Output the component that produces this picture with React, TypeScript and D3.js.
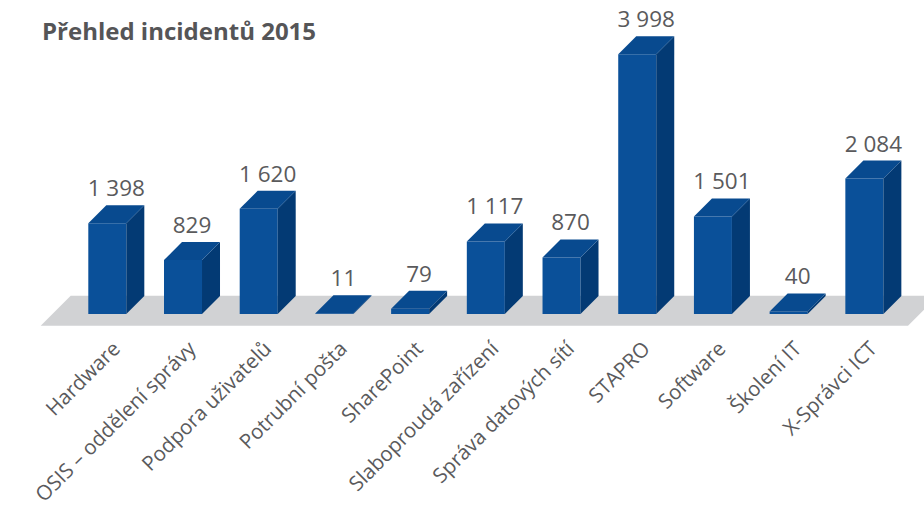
import React from "react";
import * as d3 from "d3";

const categories = [
  "Hardware",
  "OSIS – oddělení správy",
  "Podpora uživatelů",
  "Potrubní pošta",
  "SharePoint",
  "Slaboproudá zařízení",
  "Správa datových sítí",
  "STAPRO",
  "Software",
  "Školení IT",
  "X-Správci ICT",
];
const values = [1398, 829, 1620, 11, 79, 1117, 870, 3998, 1501, 40, 2084];
const title = "Přehled incidentů 2015";

const W = 924;
const H = 513;
const DX = 18;
const DY = 18;
const BASE = 314;

const locale = d3.formatLocale({
  decimal: ",",
  thousands: "\u00a0",
  grouping: [3],
  currency: ["", ""],
});
const fmt = locale.format(",");

export default function App() {
  const x = d3
    .scaleBand<string>()
    .domain(categories)
    .range([50.45, 921.2])
    .paddingInner(0.498)
    .paddingOuter(0.5);
  const y = d3.scaleLinear().domain([0, 4000]).range([BASE, 54]);
  const bw = x.bandwidth();

  const floor = d3.path();
  floor.moveTo(40.7, 325.7);
  floor.lineTo(908, 325.7);
  floor.lineTo(938, 295.7);
  floor.lineTo(70.7, 295.7);
  floor.closePath();

  const font = "'Open Sans', 'Noto Sans', sans-serif";
  const textColor = "#5a5a5c";

  return (
    <svg
      width={W}
      height={H}
      style={{ position: "absolute", left: 0, top: 0, background: "#fff" }}
    >
      <text
        x={42}
        y={40}
        fontFamily={font}
        fontWeight={700}
        fontSize={24}
        fill="#555557"
      >
        {title}
      </text>
      <path d={floor.toString()} fill="#d1d2d4" />
      {categories.map((c, i) => {
        const x0 = x(c)!;
        const x1 = x0 + bw;
        const yt = y(values[i]);
        const front = `M${x0},${BASE}L${x1},${BASE}L${x1},${yt}L${x0},${yt}Z`;
        const side = `M${x1},${BASE}L${x1 + DX},${BASE - DY}L${x1 + DX},${yt - DY}L${x1},${yt}Z`;
        const top = `M${x0},${yt}L${x1},${yt}L${x1 + DX},${yt - DY}L${x0 + DX},${yt - DY}Z`;
        return (
          <g key={c}>
            <path d={front} fill="#0a5099" />
            <path d={side} fill="#033a74" />
            <path d={top} fill="#084a8f" />
            <text
              x={x0 + bw / 2 + DX / 2}
              y={yt - DY - 9}
              textAnchor="middle"
              fontFamily={font}
              fontSize={22.5}
              fill={textColor}
            >
              {fmt(values[i])}
            </text>
            <text
              transform={`translate(${x0 + bw / 2 + DX / 2 + 5},${350}) rotate(-45)`}
              textAnchor="end"
              fontFamily={font}
              fontSize={20.5}
              fill={textColor}
            >
              {c}
            </text>
          </g>
        );
      })}
    </svg>
  );
}
